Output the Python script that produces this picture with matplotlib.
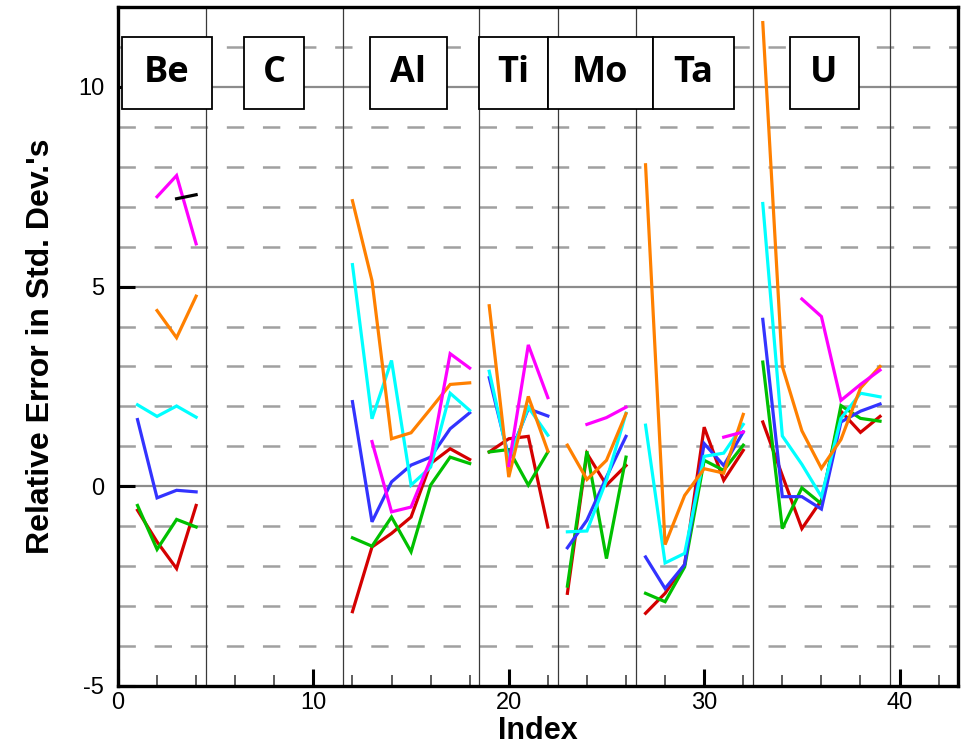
import numpy as np
import matplotlib
matplotlib.use('Agg')
import matplotlib.pyplot as plt
from matplotlib.patches import Rectangle

plt.rcParams['font.family'] = ['Liberation Sans', 'DejaVu Sans']
plt.rcParams['lines.scale_dashes'] = False
plt.rcParams['axes.unicode_minus'] = False

nan = np.nan

### index axis and the element groups along it
index = np.arange(1, 40)
elements = ['Be', 'C', 'Al', 'Ti', 'Mo', 'Ta', 'U']
group_start = [1, 5, 12, 19, 23, 27, 33]
group_end = [4, 11, 18, 22, 26, 32, 39]

### series values (one entry per index, nan = no point)
red = [-0.6, -1.39, -2.06, -0.48,
       nan, nan, nan, nan, nan, nan, nan,
       -3.14, -1.52, -1.18, -0.77, 0.57, 0.94, 0.67,
       0.86, 1.19, 1.25, -1.02,
       -2.68, 0.82, 0.03, 0.52,
       -3.18, -2.68, -1.96, 1.48, 0.15, 0.9,
       1.61, 0.27, -1.06, -0.35, 1.88, 1.35, 1.75]
green = [-0.48, -1.58, -0.83, -1.02,
         nan, nan, nan, nan, nan, nan, nan,
         -1.29, -1.5, -0.77, -1.64, 0.03, 0.73, 0.57,
         0.86, 0.92, 0.03, 0.86,
         -2.5, 0.88, -1.81, 0.73,
         -2.68, -2.89, -2.02, 0.65, 0.4, 1.03,
         3.11, -1.06, -0.04, -0.44, 2.02, 1.70, 1.63]
blue = [1.67, -0.29, -0.1, -0.14,
        nan, nan, nan, nan, nan, nan, nan,
        2.12, -0.89, 0.11, 0.53, 0.73, 1.44, 1.84,
        2.72, 0.73, 1.94, 1.76,
        -1.54, -0.85, 0.23, 1.25,
        -1.77, -2.56, -1.96, 1.07, 0.52, 1.36,
        4.18, -0.26, -0.26, -0.57, 1.61, 1.88, 2.06]
cyan = [2.04, 1.75, 2.01, 1.73,
        nan, nan, nan, nan, nan, nan, nan,
        5.55, 1.69, 3.15, 0.03, 0.48, 2.33, 1.9,
        2.88, 0.65, 1.98, 1.28,
        -1.14, -1.12, 0.15, 1.83,
        1.53, -1.92, -1.68, 0.75, 0.83, 1.55,
        7.08, 1.26, 0.55, -0.26, 1.70, 2.33, 2.24]
orange = [nan, 4.4, 3.72, 4.76,
          nan, nan, nan, nan, nan, nan, nan,
          7.15, 5.15, 1.19, 1.34, 1.94, 2.55, 2.59,
          4.52, 0.23, 2.25, 0.88,
          1.03, 0.17, 0.65, 1.82,
          8.05, -1.46, -0.23, 0.44, 0.33, 1.8,
          11.61, 3.0, 1.39, 0.45, 1.17, 2.46, 3.0]
magenta = [nan, 7.25, 7.78, 6.07,
           nan, nan, nan, nan, nan, nan, nan,
           nan, 1.12, -0.64, -0.52, 0.67, 3.32, 2.96,
           nan, 0.52, 3.54, 2.22,
           nan, 1.55, 1.72, 1.98,
           nan, nan, nan, nan, 1.23, 1.36,
           nan, nan, 4.69, 4.25, 2.15, 2.55, 2.91]
black = [nan, nan, 7.2, 7.3] + [nan] * 35

series = [(red, '#d40000'), (green, '#00c000'), (blue, '#3333ff'),
          (cyan, '#00ffff'), (orange, '#ff8000'), (magenta, '#ff00ff'),
          (black, '#000000')]

### label box extents (layout only): x0, x1 in index units
box_x = [(0.2, 4.81), (6.45, 9.51), (12.89, 16.83), (18.47, 22.0),
         (22.0, 27.37), (27.37, 31.51), (34.37, 37.9)]
box_y = (9.45, 11.25)


fig = plt.figure(figsize=(9.63, 7.47), dpi=100)
ax = fig.add_axes([0.1225, 0.0817, 0.8725, 0.9089])
ax.set_xlim(0, 43)
ax.set_ylim(-5, 12)

# horizontal grid: solid every 5, dashed every 1
for yv in range(-4, 12):
    if yv % 5 == 0:
        ax.axhline(yv, color='#8c8c8c', lw=1.6, zorder=1)
    else:
        ax.axhline(yv, color='#a0a0a0', lw=1.8, dashes=(12.5, 13.5), zorder=1)

# group separators
for g in range(len(elements)):
    ax.axvline(group_end[g] + 0.5, color='#3a3a3a', lw=0.9, zorder=1)

# the data, one polyline per group
for vals, col in series:
    vals = np.array(vals)
    for s, e in zip(group_start, group_end):
        ax.plot(index[s-1:e], vals[s-1:e], color=col, lw=2.3, zorder=3,
                solid_joinstyle='miter')

# element label boxes
for name, (x0, x1) in zip(elements, box_x):
    ax.add_patch(Rectangle((x0, box_y[0]), x1 - x0, box_y[1] - box_y[0],
                           facecolor='white', edgecolor='black', lw=1.3, zorder=4))
    ax.text((x0 + x1) / 2, (box_y[0] + box_y[1]) / 2, name, ha='center', va='center',
            fontsize=26, fontweight='bold', family=['Open Sans', 'DejaVu Sans'], zorder=5)

ax.set_xticks([0, 10, 20, 30, 40])
ax.set_xticks(np.arange(2, 43, 2), minor=True)
ax.set_yticks([-5, 0, 5, 10])
ax.tick_params(axis='both', which='major', direction='in', length=12.5, width=2.2,
               labelsize=17, color='black')
ax.tick_params(axis='x', which='minor', direction='in', length=8, width=1.1, color='#333333')
ax.tick_params(axis='x', which='major', pad=4)
ax.tick_params(axis='y', which='major', pad=10)

for sp in ax.spines.values():
    sp.set_linewidth(2.4)
    sp.set_zorder(6)

ax.set_xlabel('Index', fontsize=22, fontweight='bold', va='top')
ax.xaxis.set_label_coords(0.5, -0.044)
ax.set_ylabel("Relative Error in Std. Dev.'s", fontsize=23, fontweight='bold', labelpad=16)

fig.savefig('out.png', dpi=100)
